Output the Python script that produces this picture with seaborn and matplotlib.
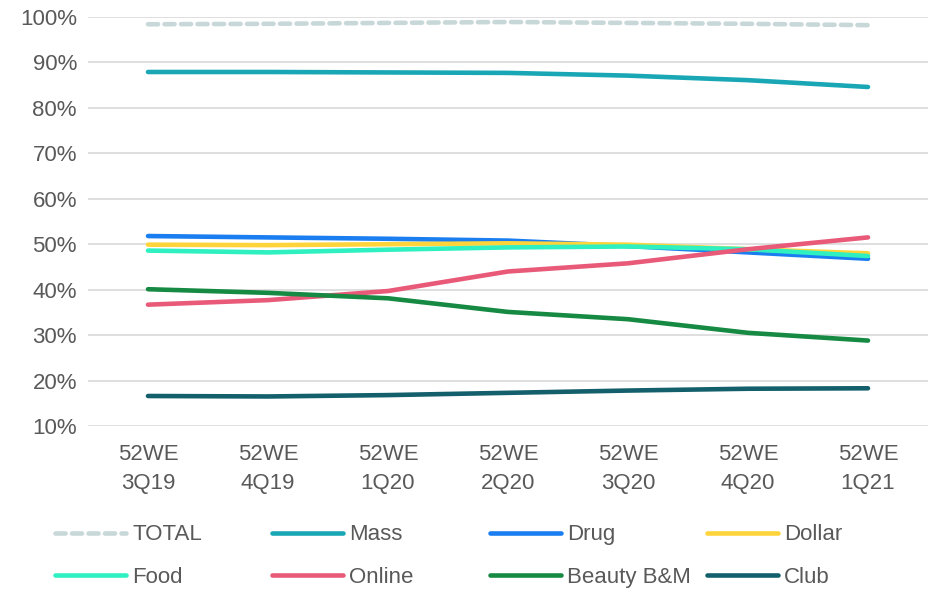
import matplotlib
matplotlib.use("Agg")
import matplotlib.pyplot as plt
import seaborn as sns
import pandas as pd
from matplotlib.lines import Line2D

categories = ["52WE\n3Q19", "52WE\n4Q19", "52WE\n1Q20", "52WE\n2Q20", "52WE\n3Q20", "52WE\n4Q20", "52WE\n1Q21"]
total = [98.4, 98.5, 98.7, 98.9, 98.7, 98.5, 98.2]
mass = [87.9, 87.9, 87.8, 87.7, 87.1, 86.1, 84.6]
drug = [51.8, 51.5, 51.2, 50.8, 49.6, 48.2, 46.8]
dollar = [49.9, 49.8, 50.0, 50.2, 49.9, 48.9, 48.0]
food = [48.6, 48.2, 48.8, 49.3, 49.5, 48.9, 47.4]
online = [36.7, 37.7, 39.7, 44.0, 45.8, 48.9, 51.5]
beauty = [40.1, 39.3, 38.1, 35.1, 33.5, 30.5, 28.8]
club = [16.6, 16.5, 16.8, 17.3, 17.8, 18.2, 18.3]

series_names = ["TOTAL", "Mass", "Drug", "Dollar", "Food", "Online", "Beauty B&M", "Club"]
series_values = [total, mass, drug, dollar, food, online, beauty, club]
colors = ["#C8D8D8", "#1AA7B5", "#1A7EF0", "#FFD43B", "#2EF0C0", "#E85A78", "#168A43", "#135F6B"]

rows = []
for name, vals in zip(series_names, series_values):
    for i, v in enumerate(vals):
        rows.append({"x": i, "value": v, "series": name})
df = pd.DataFrame(rows)

sns.set_theme(style="white")
plt.rcParams['font.family'] = ['Liberation Sans', 'DejaVu Sans']

FS = 16
TXT = "#595959"

fig = plt.figure(figsize=(9.31, 5.9), dpi=100)
ax = fig.add_axes([88/931, 1-426/590, (928-88)/931, (426-17)/590])

palette = dict(zip(series_names, colors))
dash_pat = (2.2, 1.4)
dashes = {n: "" for n in series_names}
dashes["TOTAL"] = dash_pat
sns.lineplot(data=df, x="x", y="value", hue="series", style="series",
             palette=palette, dashes=dashes, hue_order=series_names,
             style_order=series_names, linewidth=3.3, ax=ax, legend=False)
for line in ax.get_lines():
    line.set_solid_capstyle("round")
    line.set_dash_capstyle("round")

ax.set_xlim(-0.5, 6.5)
ax.set_ylim(10, 100)
ax.set_yticks(range(10, 101, 10))
ax.set_yticklabels([f"{v}%" for v in range(10, 101, 10)])
ax.set_xticks(range(len(categories)))
ax.set_xticklabels(categories, linespacing=1.5)
ax.tick_params(axis="both", colors=TXT, labelsize=FS, length=0)
ax.tick_params(axis="x", pad=13)
ax.tick_params(axis="y", pad=8)
ax.set_xlabel("")
ax.set_ylabel("")
ax.grid(axis="y", color="#D9D9D9", linewidth=1.2)
ax.set_axisbelow(True)
for s in ax.spines.values():
    s.set_visible(False)

def make_handle(n, c):
    if n == "TOTAL":
        return Line2D([], [], color=c, linewidth=3.3, linestyle=(0, dash_pat), dash_capstyle="round")
    return Line2D([], [], color=c, linewidth=3.3, solid_capstyle="round")

handles = [make_handle(n, c) for n, c in zip(series_names, colors)]
col_x = [55, 272, 490, 707]
for j in range(4):
    idx = [j, j + 4]
    leg = fig.legend([handles[i] for i in idx], [series_names[i] for i in idx],
                     loc="center left", bbox_to_anchor=(col_x[j]/931, 1-556/590),
                     frameon=False, fontsize=FS, handlelength=3.2, handletextpad=0.27,
                     labelspacing=0.95, borderpad=0, borderaxespad=0)
    for t in leg.get_texts():
        t.set_color(TXT)

fig.savefig("out.png", dpi=100)
